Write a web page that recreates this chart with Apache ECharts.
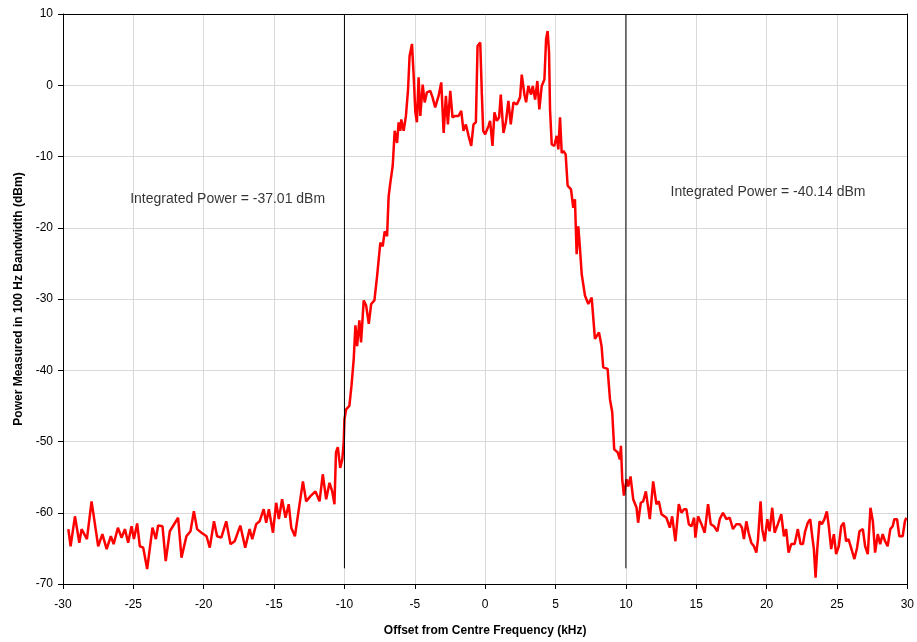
<!DOCTYPE html>
<html>
<head>
<meta charset="utf-8">
<title>Spectrum</title>
<script src="https://cdn.jsdelivr.net/npm/echarts@6/dist/echarts.min.js"></script>
<style>
  html, body { margin: 0; padding: 0; background: #fff; }
  #chart { width: 917px; height: 642px; }
</style>
</head>
<body>
<div id="chart"></div>
<script>
// --- trace, [offset kHz, dBm] ---
const lowerTail = [
  [-29.62,-62.3],[-29.46,-64.7],[-29.15,-60.5],[-28.84,-64.2],[-28.68,-62.3],[-28.3,-63.7],[-27.97,-58.4],[-27.5,-64.7],
  [-27.2,-63.0],[-26.9,-65.1],[-26.6,-63.3],[-26.4,-64.4],[-26.1,-62.1],[-25.84,-63.5],[-25.6,-62.3],[-25.37,-64.2],
  [-25.13,-61.9],[-24.96,-63.7],[-24.73,-61.5],[-24.54,-64.7],[-24.3,-64.9],[-24.02,-67.9],[-23.64,-62.1],[-23.4,-63.7],
  [-23.24,-61.8],[-22.93,-61.9],[-22.7,-66.8],[-22.41,-62.6],[-21.82,-60.7],[-21.58,-66.3],[-21.23,-63.3],[-20.94,-62.6],
  [-20.7,-59.8],[-20.47,-62.3],[-20.16,-62.8],[-19.8,-63.3],[-19.57,-64.9],[-19.27,-61.2],[-19.05,-63.3],[-18.75,-63.5],
  [-18.4,-61.2],[-18.1,-64.4],[-17.8,-64.0],[-17.4,-61.8],[-17.05,-64.9],[-16.74,-62.3],[-16.55,-63.7],[-16.27,-61.6],
  [-16.03,-61.2],[-15.74,-59.5],[-15.56,-61.4],[-15.37,-59.5],[-15.08,-62.8],[-14.85,-58.6],[-14.66,-60.9],[-14.43,-58.1],
  [-14.19,-60.7],[-13.96,-58.8],[-13.78,-62.1],[-13.52,-63.3],[-13.24,-59.5],[-12.95,-55.6],[-12.72,-58.4],[-12.43,-57.7],
  [-12.06,-57.0],[-11.77,-58.4],[-11.54,-54.6],[-11.3,-58.1],[-11.06,-55.8],[-10.87,-57.0],[-10.71,-58.8]
]
const leftSkirt = [
  [-10.6,-51.5],[-10.47,-50.8],[-10.3,-53.7],[-10.15,-52.5],[-10.05,-50.0],[-10.0,-46.9],[-9.88,-45.5],[-9.65,-45.0],
  [-9.5,-42.2],[-9.34,-38.4],[-9.22,-33.7],[-9.1,-36.6],[-8.94,-33.0],[-8.82,-36.1],[-8.63,-30.2],[-8.46,-30.9],
  [-8.27,-33.5],[-8.1,-30.7],[-7.87,-30.2],[-7.68,-26.8],[-7.45,-22.1],[-7.28,-22.6],[-7.14,-20.5],[-6.97,-21.2],
  [-6.86,-15.6],[-6.74,-13.7],[-6.57,-11.3],[-6.43,-6.4],[-6.26,-8.1],[-6.15,-5.2],[-6.03,-6.4],[-5.96,-4.8],
  [-5.79,-6.4],[-5.63,-4.3],[-5.48,-0.6]
]
const topBand = [
  [-5.37,4.1],[-5.2,5.8],[-5.08,1.3],[-4.96,-3.8],[-4.85,-5.2],[-4.73,1.1],[-4.61,-4.3],[-4.44,0.1],[-4.3,-2.4],
  [-4.14,-1.0],[-3.9,-0.8],[-3.74,-1.7],[-3.55,-3.1],[-3.31,-1.5],[-3.12,0.4],[-2.95,-6.7],[-2.79,-1.5],[-2.65,-5.5],
  [-2.48,-0.8],[-2.32,-4.5],[-2.13,-4.3],[-1.89,-4.3],[-1.7,-3.6],[-1.54,-6.4],[-1.37,-5.5],[-1.18,-7.1],[-0.99,-8.5],
  [-0.83,-5.5],[-0.66,-5.2],[-0.54,5.5],[-0.35,6.0],[-0.24,-1.0],[-0.14,-6.4],[0,-6.9],[0.24,-5.7],[0.35,-5.0],
  [0.52,-8.5],[0.66,-3.8],[0.83,-5.0],[0.99,-4.5],[1.11,-1.3],[1.3,-6.7],[1.47,-5.2],[1.65,-2.2],[1.82,-5.5],
  [2.01,-2.4],[2.25,-2.7],[2.48,-1.7],[2.6,1.5],[2.79,-1.3],[2.91,-2.4],[3.07,-0.1],[3.26,-1.3],[3.38,-0.1],
  [3.55,-2.0],[3.71,0.6],[3.85,-3.4],[4.02,-0.1],[4.21,0.8],[4.33,6.5],[4.44,7.6],[4.54,4.6],[4.61,-3.4]
]
const rightSkirt = [
  [4.73,-8.3],[4.92,-8.5],[5.08,-7.1],[5.2,-9.0],[5.32,-4.5],[5.44,-9.5],[5.56,-9.2],[5.72,-9.7],[5.86,-14.1],
  [6.1,-14.6],[6.26,-17.2],[6.38,-16.0],[6.5,-23.7],[6.62,-19.8],[6.74,-23.0],[6.86,-26.5],[7.09,-29.5],[7.33,-30.7],
  [7.57,-29.8],[7.8,-35.6],[8.09,-34.7],[8.27,-36.6],[8.39,-39.6],[8.7,-39.8],[8.87,-44.1],[9.03,-45.9],[9.17,-51.1],
  [9.41,-51.5],[9.57,-52.5],[9.65,-50.6],[9.74,-55.3],[9.86,-57.6]
]
const upperTail = [
  [10.05,-55.3],[10.17,-56.3],[10.33,-54.9],[10.52,-58.1],[10.76,-59.3],[10.87,-61.4],[11.06,-58.6],[11.23,-58.4],
  [11.42,-57.0],[11.7,-60.9],[11.94,-55.6],[12.17,-58.8],[12.34,-58.4],[12.53,-60.2],[12.88,-60.7],[13.12,-62.1],
  [13.29,-60.5],[13.52,-64.0],[13.76,-58.8],[13.95,-60.0],[14.14,-59.5],[14.3,-59.5],[14.47,-61.6],[14.66,-61.9],
  [14.85,-60.7],[14.94,-63.5],[15.13,-60.5],[15.37,-61.6],[15.6,-62.8],[15.84,-58.8],[16.03,-61.6],[16.26,-61.9],
  [16.5,-62.6],[16.67,-60.9],[16.9,-60.0],[17.14,-60.9],[17.38,-60.7],[17.61,-62.3],[17.85,-61.6],[18.09,-61.6],
  [18.25,-62.1],[18.39,-63.7],[18.56,-61.2],[18.72,-62.8],[18.91,-64.2],[19.1,-64.7],[19.27,-65.6],[19.39,-63.7],
  [19.57,-58.4],[19.69,-62.3],[19.86,-64.0],[20.05,-60.9],[20.21,-62.6],[20.4,-59.3],[20.57,-62.8],[20.8,-61.6],
  [21.04,-60.2],[21.23,-63.3],[21.39,-62.3],[21.56,-65.6],[21.75,-64.4],[21.99,-64.4],[22.22,-62.3],[22.41,-64.4],
  [22.58,-64.4],[22.74,-62.6],[22.93,-61.4],[23.1,-60.9],[23.24,-63.3],[23.36,-65.1],[23.48,-69.1],[23.6,-65.1],
  [23.76,-61.2],[23.93,-61.6],[24.11,-60.9],[24.28,-59.8],[24.42,-61.9],[24.59,-65.1],[24.78,-63.0],[24.94,-65.8],
  [25.13,-64.7],[25.3,-61.9],[25.48,-61.4],[25.65,-64.0],[25.82,-63.7],[26.0,-64.9],[26.24,-66.5],[26.43,-64.9],
  [26.6,-62.6],[26.84,-62.3],[27.0,-64.7],[27.19,-65.8],[27.38,-59.3],[27.55,-61.2],[27.71,-65.6],[27.9,-63.0],
  [28.07,-64.4],[28.25,-63.0],[28.42,-64.0],[28.6,-64.7],[28.79,-62.3],[28.96,-61.9],[29.08,-60.9],[29.27,-60.9],
  [29.43,-63.3],[29.67,-63.3],[29.83,-61.2],[29.93,-60.7]
]

// 积分带边界竖线
const bandEdges = [-10, 10]
const edgeTop = 10
const edgeBottom = -67.8

// 标注文字
const noteText = ['Integrated Power = -37.01 dBm', 'Integrated Power = -40.14 dBm']
const notePos = [[-18.3, -16.0], [20.1, -15.0]]

const trace = [].concat(lowerTail, leftSkirt, topBand, rightSkirt, upperTail)

const FONT = '"Liberation Sans", Arial, sans-serif'
const chart = echarts.init(document.getElementById('chart'))

const edgeSeries = bandEdges.map((x) => ({
  type: 'line',
  data: [[x, edgeTop], [x, edgeBottom]],
  symbol: 'none',
  silent: true,
  lineStyle: { color: '#000', width: 1 },
  z: 3
}))

// 顶部/右侧边框：只画轴线，压在网格线上面
const frameAxis = (position, min, max) => ({
  type: 'value',
  position,
  min,
  max,
  axisLine: { show: true, onZero: false, lineStyle: { color: '#000', width: 1 } },
  axisTick: { show: false },
  axisLabel: { show: false },
  splitLine: { show: false }
})

chart.setOption({
  animation: false,
  grid: {
    left: 63,
    right: 7,
    top: 14,
    bottom: 58
  },
  xAxis: [
    {
      type: 'value',
      min: -30,
      max: 30,
      interval: 5,
      name: 'Offset from Centre Frequency (kHz)',
      nameLocation: 'middle',
      nameGap: 41,
      nameTextStyle: { fontFamily: FONT, fontSize: 12, fontWeight: 'bold', color: '#000' },
      axisLine: { onZero: false, lineStyle: { color: '#000', width: 1 } },
      axisTick: { show: true, inside: false, length: 5, lineStyle: { color: '#000' } },
      axisLabel: { fontFamily: FONT, fontSize: 12, color: '#000', margin: 15 },
      splitLine: { show: true, lineStyle: { color: '#d9d9d9', width: 1 } }
    },
    frameAxis('top', -30, 30)
  ],
  yAxis: [
    {
      type: 'value',
      min: -70,
      max: 10,
      interval: 10,
      name: 'Power Measured in 100 Hz Bandwidth (dBm)',
      nameLocation: 'middle',
      nameGap: 38,
      nameTextStyle: { fontFamily: FONT, fontSize: 12, fontWeight: 'bold', color: '#000' },
      axisLine: { onZero: false, lineStyle: { color: '#000', width: 1 } },
      axisTick: { show: true, inside: false, length: 5, lineStyle: { color: '#000' } },
      axisLabel: { fontFamily: FONT, fontSize: 12, color: '#000', margin: 10 },
      splitLine: { show: true, lineStyle: { color: '#d9d9d9', width: 1 } }
    },
    frameAxis('right', -70, 10)
  ],
  series: [
    {
      type: 'line',
      data: trace,
      symbol: 'none',
      lineStyle: { color: '#ff0000', width: 2.5 },
      z: 2
    },
    ...edgeSeries,
    {
      type: 'scatter',
      symbolSize: 0,
      silent: true,
      data: notePos.map((p, i) => ({ value: p, name: noteText[i] })),
      label: {
        show: true,
        position: 'inside',
        formatter: (p) => p.name,
        fontFamily: FONT,
        fontSize: 14,
        color: '#000'
      }
    }
  ]
})
</script>
</body>
</html>
